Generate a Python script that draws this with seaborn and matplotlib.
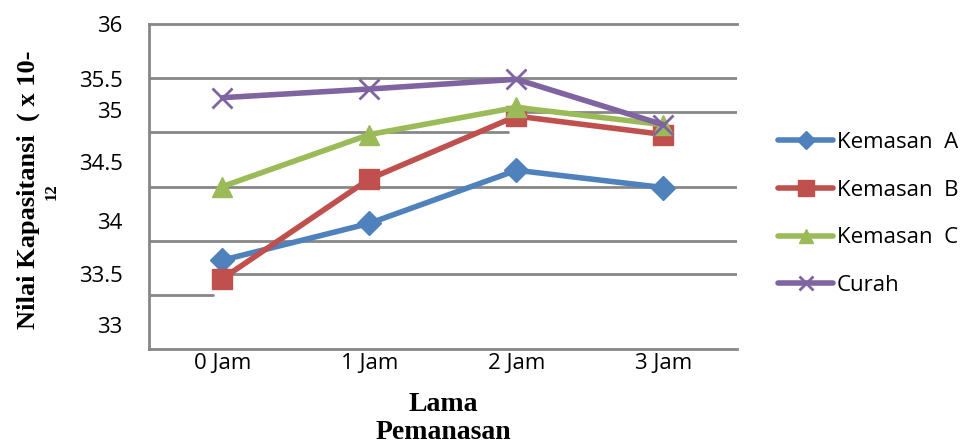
import matplotlib
matplotlib.use("Agg")
import matplotlib.pyplot as plt
from matplotlib.lines import Line2D
import seaborn as sns
import pandas as pd

# data
waktu = ["0 Jam", "1 Jam", "2 Jam", "3 Jam"]
kemasan_a = [33.82, 34.16, 34.65, 34.49]
kemasan_b = [33.65, 34.57, 35.15, 34.98]
kemasan_c = [34.50, 34.98, 35.23, 35.07]
curah = [35.32, 35.40, 35.49, 35.07]

series_names = ["Kemasan  A", "Kemasan  B", "Kemasan  C", "Curah"]
colors = ["#4F81BD", "#C0504D", "#9BBB59", "#8064A2"]
markers = ["D", "s", "^", "x"]
msizes = [12, 15, 15, 14]
legend_msizes = [9, 11, 10, 10]

# tick labels as printed (slightly off the gridlines in the original)
ytick_labels = ["36", "35.5", "35", "34.5", "34", "33.5", "33"]
ytick_pos = [36.0, 35.49, 35.21, 34.73, 34.18, 33.69, 33.22]

sns.set_style("white")
plt.rcParams["text.color"] = "black"
plt.rcParams["xtick.color"] = "black"
plt.rcParams["ytick.color"] = "black"

fig = plt.figure(figsize=(9.65, 4.43), dpi=100)
ax = fig.add_axes([0.1544, 0.2122, 0.6093, 0.7336])

grey = "#878787"
# gridlines, some broken/shifted like in the source
grid = [(35.5, 0, 1), (35.0, 0, 0.61), (35.19, 0.643, 1), (34.5, 0, 1),
        (34.0, 0, 1), (33.69, 0.109, 1), (33.5, 0, 0.109)]
for val, x0, x1 in grid:
    ax.axhline(val, xmin=x0, xmax=x1, color=grey, lw=2, zorder=1)

all_vals = [kemasan_a, kemasan_b, kemasan_c, curah]
handles = []
for name, vals, c, m, ms, lms in zip(series_names, all_vals, colors, markers,
                                     msizes, legend_msizes):
    df = pd.DataFrame({"Waktu": waktu, "Nilai": vals})
    mew = 2 if m == "x" else 1
    sns.lineplot(data=df, x="Waktu", y="Nilai", ax=ax, color=c, lw=4,
                 marker=m, markersize=ms, markeredgecolor=c, markeredgewidth=mew,
                 legend=False, zorder=3)
    handles.append(Line2D([], [], color=c, lw=4, marker=m, markersize=lms,
                          markeredgecolor=c, markeredgewidth=mew, label=name))

ax.set_xlim(-0.5, 3.5)
ax.set_ylim(33, 36)
ax.set_yticks(ytick_pos)
ax.set_yticklabels(ytick_labels)
ax.set_xlabel("")
ax.set_ylabel("")
ax.tick_params(axis="y", length=0, pad=19, labelsize=16)
ax.tick_params(axis="x", length=0, pad=3, labelsize=16)
for lab in ax.get_xticklabels() + ax.get_yticklabels():
    lab.set_fontfamily("Open Sans")

for s in ["left", "bottom", "top"]:
    ax.spines[s].set_color(grey)
    ax.spines[s].set_linewidth(2)
ax.spines["right"].set_visible(False)

fig.legend(handles=handles, loc="upper left", bbox_to_anchor=(0.806, 0.702),
           frameon=False, prop={"family": "Open Sans", "size": 16},
           handlelength=2.5, handletextpad=0.15, labelspacing=1.2,
           borderpad=0, borderaxespad=0)

fig.text(0.029, 0.571, "Nilai Kapasitansi  ( x 10-", rotation=90,
         ha="center", va="center", family="Liberation Serif",
         fontweight="bold", fontsize=19)
fig.text(0.054, 0.567, "12", rotation=90, ha="center", va="center",
         family="Liberation Serif", fontweight="bold", fontsize=12)
fig.text(0.459, 0.088, "Lama", ha="center", va="center",
         family="Liberation Serif", fontweight="bold", fontsize=20)
fig.text(0.459, 0.024, "Pemanasan", ha="center", va="center",
         family="Liberation Serif", fontweight="bold", fontsize=20)

fig.savefig("out.png", dpi=100)
